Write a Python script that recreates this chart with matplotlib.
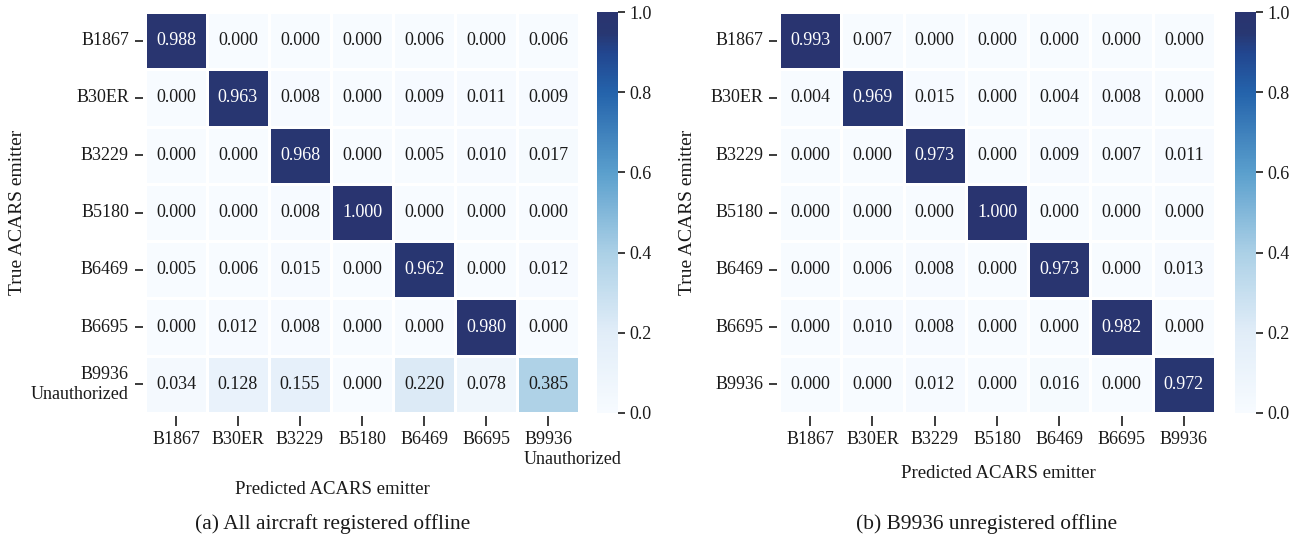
"""
Confusion matrices of ACARS emitter identification, with and without B9936 registered offline.
"""
import numpy as np
import matplotlib
matplotlib.use('Agg')
import matplotlib.pyplot as plt
from matplotlib.colors import LinearSegmentedColormap
from matplotlib.transforms import ScaledTranslation

plt.rcParams['font.family'] = ['Liberation Serif', 'DejaVu Serif']

emitters = ['B1867', 'B30ER', 'B3229', 'B5180', 'B6469', 'B6695', 'B9936']

# (a) all aircraft registered offline, B9936 flagged as unauthorized
cm_all = [
    [0.988, 0.000, 0.000, 0.000, 0.006, 0.000, 0.006],
    [0.000, 0.963, 0.008, 0.000, 0.009, 0.011, 0.009],
    [0.000, 0.000, 0.968, 0.000, 0.005, 0.010, 0.017],
    [0.000, 0.000, 0.008, 1.000, 0.000, 0.000, 0.000],
    [0.005, 0.006, 0.015, 0.000, 0.962, 0.000, 0.012],
    [0.000, 0.012, 0.008, 0.000, 0.000, 0.980, 0.000],
    [0.034, 0.128, 0.155, 0.000, 0.220, 0.078, 0.385],
]

# (b) B9936 unregistered offline
cm_unreg = [
    [0.993, 0.007, 0.000, 0.000, 0.000, 0.000, 0.000],
    [0.004, 0.969, 0.015, 0.000, 0.004, 0.008, 0.000],
    [0.000, 0.000, 0.973, 0.000, 0.009, 0.007, 0.011],
    [0.000, 0.000, 0.000, 1.000, 0.000, 0.000, 0.000],
    [0.000, 0.006, 0.008, 0.000, 0.973, 0.000, 0.013],
    [0.000, 0.010, 0.008, 0.000, 0.000, 0.982, 0.000],
    [0.000, 0.000, 0.012, 0.000, 0.016, 0.000, 0.972],
]

cbar_ticks = [0.0, 0.2, 0.4, 0.6, 0.8, 1.0]

cmap = LinearSegmentedColormap.from_list('navy_blues', [
    (0.0, '#f7fbff'), (0.2, '#e1edf8'), (0.4, '#abd0e6'),
    (0.6, '#5a9fcd'), (0.8, '#2463ab'), (0.9, '#22468f'), (0.95, '#283771'),
    (1.0, '#293470')])

TXT = '#1a1a1a'


def draw_cm(ax, cax, cm, xlabels, ylabels):
    cm = np.array(cm)
    n = len(cm)
    mesh = ax.pcolormesh(cm, cmap=cmap, vmin=0, vmax=1,
                         edgecolors='white', linewidth=1.0)
    ax.set_xlim(0, n)
    ax.set_ylim(n, 0)
    for i in range(n):
        for j in range(n):
            v = cm[i, j]
            ax.text(j + 0.5, i + 0.5, '%.3f' % v, ha='center', va='center',
                    fontsize=13, color='white' if v > 0.6 else TXT)

    # move spines first: this rebuilds the ticks
    for s in ax.spines.values():
        s.set_visible(False)
    ax.spines['bottom'].set_position(('outward', 2))
    ax.spines['left'].set_position(('outward', 1.5))
    ax.tick_params(axis='x', length=7, width=1.2, pad=4, color=TXT,
                   labelsize=13, labelcolor=TXT)
    ax.tick_params(axis='y', length=6, width=1.2, pad=4, color=TXT,
                   labelsize=13, labelcolor=TXT)
    ax.set_xticks(np.arange(n) + 0.5)
    ax.set_yticks(np.arange(n) + 0.5)
    ax.set_xticklabels(xlabels)
    ax.set_yticklabels(ylabels, va='center')

    cb = plt.colorbar(mesh, cax=cax)
    cb.outline.set_visible(False)
    cb.set_ticks(cbar_ticks)
    cb.set_ticklabels(['%.1f' % t for t in cbar_ticks])
    cb.ax.tick_params(length=5, width=1.2, labelsize=13, color=TXT,
                      labelcolor=TXT, pad=3)
    return ax


fig = plt.figure(figsize=(12.98, 5.46), dpi=100)

ax1 = fig.add_axes([0.1117, 0.2436, 0.3344, 0.7344])
cax1 = fig.add_axes([0.4600, 0.2436, 0.0162, 0.7344])
ax2 = fig.add_axes([0.6002, 0.2436, 0.3359, 0.7344])
cax2 = fig.add_axes([0.9515, 0.2436, 0.0165, 0.7344])

unauth = 'B9936\nUnauthorized'
draw_cm(ax1, cax1, cm_all, emitters[:-1] + [unauth], emitters[:-1] + [unauth])
draw_cm(ax2, cax2, cm_unreg, emitters, emitters)

# two-line label under the last column reads left-aligned from the tick
last = ax1.get_xticklabels()[-1]
last.set_ha('left')
last.set_multialignment('left')
last.set_transform(last.get_transform() + ScaledTranslation(-24 / 100, 0, fig.dpi_scale_trans))

fig.text(18 / 1298, 1 - 212 / 546, 'True ACARS emitter', rotation=90,
         ha='center', va='center', fontsize=14, color=TXT)
fig.text(688 / 1298, 1 - 212 / 546, 'True ACARS emitter', rotation=90,
         ha='center', va='center', fontsize=14, color=TXT)
fig.text(332 / 1298, 1 - 490 / 546, 'Predicted ACARS emitter',
         ha='center', va='center', fontsize=13.5, color=TXT)
fig.text(998 / 1298, 1 - 473 / 546, 'Predicted ACARS emitter',
         ha='center', va='center', fontsize=13.5, color=TXT)

fig.text(333 / 1298, 1 - 524 / 546, '(a) All aircraft registered offline',
         ha='center', va='center', fontsize=15.4, color=TXT)
fig.text(987 / 1298, 1 - 524 / 546, '(b) B9936 unregistered offline',
         ha='center', va='center', fontsize=15.4, color=TXT)

plt.savefig('out.png', dpi=100)
